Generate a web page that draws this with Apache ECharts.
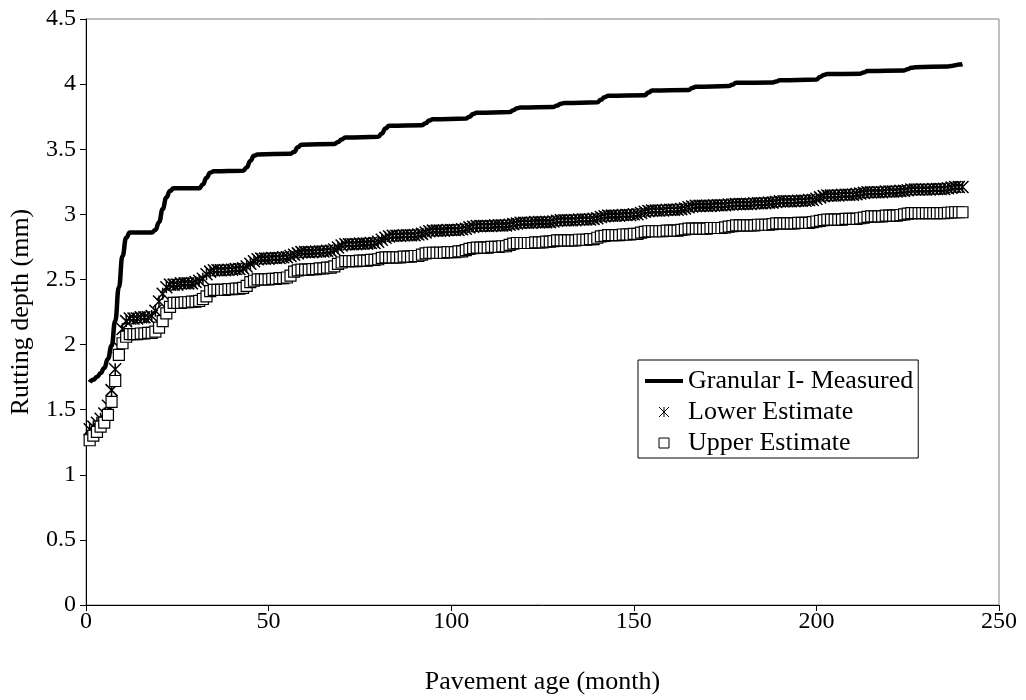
<!DOCTYPE html>
<html>
<head>
<meta charset="utf-8">
<script src="https://cdn.jsdelivr.net/npm/echarts@6/dist/echarts.min.js"></script>
<style>
  html, body { margin: 0; padding: 0; background: #fff; }
  #main { width: 1026px; height: 700px; }
</style>
</head>
<body>
<div id="main"></div>
<script>
// measured rutting depth, [month, mm]
var measured = [
  [1,1.71],[2,1.73],[3,1.75],[4,1.78],[5,1.82],[6,1.89],[7,1.99],[8,2.18],[9,2.44],[10,2.68],[11,2.82],[12,2.86],
  [18,2.86],[19,2.88],[20,2.94],[21,3.04],[22,3.13],[23,3.18],[24,3.2],
  [31,3.2],[32,3.23],[33,3.28],[34,3.32],[35,3.33],
  [43,3.335],[44,3.36],[45,3.41],[46,3.45],[47,3.46],
  [56,3.465],[57,3.48],[58,3.515],[59,3.535],
  [68,3.54],[69,3.555],[70,3.575],[71,3.59],
  [80,3.595],[81,3.62],[82,3.66],[83,3.68],
  [92,3.685],[93,3.7],[94,3.72],[95,3.73],
  [104,3.735],[105,3.75],[106,3.77],[107,3.78],
  [116,3.785],[117,3.8],[118,3.815],[119,3.82],
  [128,3.825],[129,3.835],[130,3.85],[131,3.855],
  [140,3.86],[141,3.88],[142,3.9],[143,3.91],
  [153,3.915],[154,3.935],[155,3.95],
  [165,3.955],[166,3.97],[167,3.98],
  [176,3.985],[177,3.995],[178,4.01],
  [188,4.012],[189,4.02],[190,4.03],
  [200,4.035],[201,4.055],[202,4.07],[203,4.077],
  [212,4.08],[213,4.09],[214,4.1],
  [224,4.105],[225,4.115],[226,4.125],[227,4.13],
  [236,4.135],[237,4.14],[238,4.145],[239,4.15],[240,4.154]
];

// lower estimate, one value per month (months 1..240), one year per row
var lowerEst = [
  1.35,1.37,1.40,1.43,1.47,1.53,1.65,1.81,1.98,2.12,2.18,2.20,
  2.20,2.20,2.21,2.21,2.21,2.22,2.26,2.33,2.39,2.44,2.46,2.46,
  2.46,2.47,2.47,2.47,2.47,2.48,2.49,2.505,2.54,2.56,2.57,2.57,
  2.57,2.57,2.575,2.575,2.58,2.58,2.585,2.60,2.62,2.64,2.655,2.66,
  2.66,2.66,2.665,2.665,2.665,2.67,2.67,2.68,2.69,2.70,2.71,2.71,
  2.71,2.71,2.715,2.715,2.715,2.72,2.72,2.73,2.745,2.76,2.77,2.77,
  2.77,2.77,2.775,2.775,2.775,2.78,2.78,2.79,2.805,2.82,2.83,2.835,
  2.835,2.835,2.84,2.84,2.84,2.84,2.845,2.85,2.86,2.87,2.875,2.875,
  2.875,2.875,2.88,2.88,2.88,2.88,2.885,2.89,2.90,2.905,2.91,2.91,
  2.91,2.91,2.91,2.915,2.915,2.915,2.915,2.92,2.925,2.93,2.935,2.935,
  2.935,2.935,2.94,2.94,2.94,2.94,2.94,2.945,2.95,2.955,2.955,2.955,
  2.955,2.955,2.96,2.96,2.96,2.96,2.965,2.97,2.98,2.985,2.99,2.99,
  2.99,2.99,2.995,2.995,2.995,3.00,3.00,3.01,3.02,3.025,3.03,3.03,
  3.03,3.03,3.035,3.035,3.035,3.035,3.04,3.045,3.055,3.06,3.065,3.065,
  3.065,3.065,3.065,3.07,3.07,3.07,3.07,3.075,3.075,3.08,3.08,3.08,
  3.08,3.08,3.085,3.085,3.085,3.085,3.09,3.09,3.095,3.10,3.10,3.10,
  3.10,3.10,3.105,3.105,3.105,3.11,3.11,3.12,3.13,3.14,3.145,3.145,
  3.145,3.145,3.15,3.15,3.15,3.15,3.155,3.16,3.165,3.17,3.17,3.17,
  3.17,3.17,3.175,3.175,3.175,3.175,3.18,3.18,3.185,3.19,3.19,3.19,
  3.19,3.19,3.19,3.195,3.195,3.195,3.195,3.20,3.205,3.21,3.21,3.21
];

// upper estimate, one value per month
var upperEst = [
  1.265,1.30,1.33,1.37,1.40,1.46,1.56,1.72,1.92,2.01,2.06,2.08,
  2.08,2.08,2.085,2.085,2.09,2.09,2.10,2.13,2.18,2.24,2.29,2.32,
  2.32,2.32,2.325,2.325,2.33,2.33,2.335,2.35,2.37,2.41,2.42,2.42,
  2.42,2.42,2.425,2.425,2.43,2.43,2.435,2.45,2.48,2.49,2.50,2.50,
  2.50,2.50,2.505,2.505,2.51,2.51,2.515,2.53,2.56,2.57,2.575,2.575,
  2.575,2.58,2.58,2.585,2.585,2.59,2.59,2.60,2.62,2.63,2.64,2.64,
  2.64,2.64,2.645,2.645,2.645,2.65,2.65,2.655,2.665,2.67,2.67,2.67,
  2.67,2.67,2.675,2.675,2.675,2.68,2.68,2.69,2.70,2.705,2.705,2.705,
  2.705,2.705,2.71,2.71,2.71,2.715,2.715,2.725,2.735,2.74,2.745,2.745,
  2.745,2.745,2.75,2.75,2.75,2.755,2.755,2.765,2.775,2.78,2.78,2.78,
  2.78,2.78,2.785,2.785,2.785,2.79,2.79,2.795,2.80,2.80,2.80,2.80,
  2.80,2.80,2.805,2.805,2.805,2.81,2.81,2.82,2.83,2.835,2.84,2.84,
  2.84,2.84,2.845,2.845,2.845,2.85,2.85,2.86,2.865,2.87,2.87,2.87,
  2.87,2.87,2.875,2.875,2.875,2.875,2.88,2.885,2.89,2.89,2.89,2.89,
  2.89,2.89,2.895,2.895,2.895,2.895,2.90,2.905,2.91,2.915,2.915,2.915,
  2.915,2.915,2.915,2.92,2.92,2.92,2.92,2.925,2.93,2.93,2.93,2.93,
  2.93,2.93,2.935,2.935,2.935,2.935,2.94,2.945,2.95,2.955,2.96,2.96,
  2.96,2.96,2.96,2.965,2.965,2.965,2.965,2.97,2.975,2.98,2.985,2.985,
  2.985,2.985,2.99,2.99,2.99,2.99,2.995,3.00,3.005,3.01,3.01,3.01,
  3.01,3.01,3.01,3.01,3.01,3.01,3.01,3.012,3.014,3.016,3.016,3.016
];

var seriesNames = ['Granular I- Measured', 'Lower Estimate', 'Upper Estimate'];

window.onload = function(){
  var chart = echarts.init(document.getElementById('main'));
  var font = '"Liberation Serif", "Times New Roman", serif';

  function byMonth(arr){
    var out = [];
    for(var i=0;i<arr.length;i++){
      out.push([i+1, arr[i]]);
    }
    return out;
  }

  var asterisk = 'path://M0,0L10,10M10,0L0,10M5,0L5,10';
  var square = 'path://M0,0L10,0L10,10L0,10Z';
  var bar = 'path://M0,0L38,0L38,4L0,4Z';

  var opt = {
    animation: false,
    textStyle: { fontFamily: font, color: '#000' },
    grid: {
      left: 86, right: 27, top: 19, bottom: 95,
      show: true, borderColor: '#808080', borderWidth: 1, backgroundColor: '#fff'
    },
    legend: {
      orient: 'vertical',
      left: 638, top: 360,
      padding: [8, 5, 2, 7],
      itemWidth: 38, itemHeight: 10, itemGap: 5,
      symbolKeepAspect: true,
      borderColor: '#000', borderWidth: 1,
      textStyle: { fontFamily: font, fontSize: 26, color: '#000' },
      data: [
        { name: seriesNames[0], icon: bar,
          itemStyle: { color: '#000', borderWidth: 0 } },
        { name: seriesNames[1], icon: asterisk,
          itemStyle: { color: 'none', borderColor: '#000', borderWidth: 1 } },
        { name: seriesNames[2], icon: square,
          itemStyle: { color: '#fff', borderColor: '#000', borderWidth: 1 } }
      ]
    },
    xAxis: {
      type: 'value', min: 0, max: 250, interval: 50,
      name: 'Pavement age (month)', nameLocation: 'middle', nameGap: 64,
      nameTextStyle: { fontFamily: font, fontSize: 26, color: '#000' },
      axisLine: { lineStyle: { color: '#000', width: 1 } },
      axisTick: { length: 6, lineStyle: { color: '#000' } },
      axisLabel: { fontFamily: font, fontSize: 24, color: '#000', margin: 5 },
      splitLine: { show: false }
    },
    yAxis: {
      type: 'value', min: 0, max: 4.5, interval: 0.5,
      name: 'Rutting depth (mm)', nameLocation: 'middle', nameGap: 52,
      nameTextStyle: { fontFamily: font, fontSize: 26, color: '#000' },
      axisLine: { show: true, lineStyle: { color: '#000', width: 1 } },
      axisTick: { show: true, length: 6, lineStyle: { color: '#000' } },
      axisLabel: { fontFamily: font, fontSize: 24, color: '#000', margin: 10 },
      splitLine: { show: false }
    },
    series: [
      {
        name: seriesNames[0], type: 'line', data: measured,
        symbol: 'none', smooth: 0.5, smoothMonotone: 'x',
        lineStyle: { color: '#000', width: 4.5 },
        itemStyle: { color: '#000' }
      },
      {
        name: seriesNames[1], type: 'scatter', data: byMonth(lowerEst),
        symbol: asterisk, symbolSize: 12,
        itemStyle: { color: 'none', borderColor: '#000', borderWidth: 1.5, opacity: 1 }
      },
      {
        name: seriesNames[2], type: 'scatter', data: byMonth(upperEst),
        symbol: 'rect', symbolSize: 11,
        itemStyle: { color: '#fff', borderColor: '#000', borderWidth: 1.2, opacity: 1 }
      }
    ]
  };

  chart.setOption(opt);
};
</script>
</body>
</html>
